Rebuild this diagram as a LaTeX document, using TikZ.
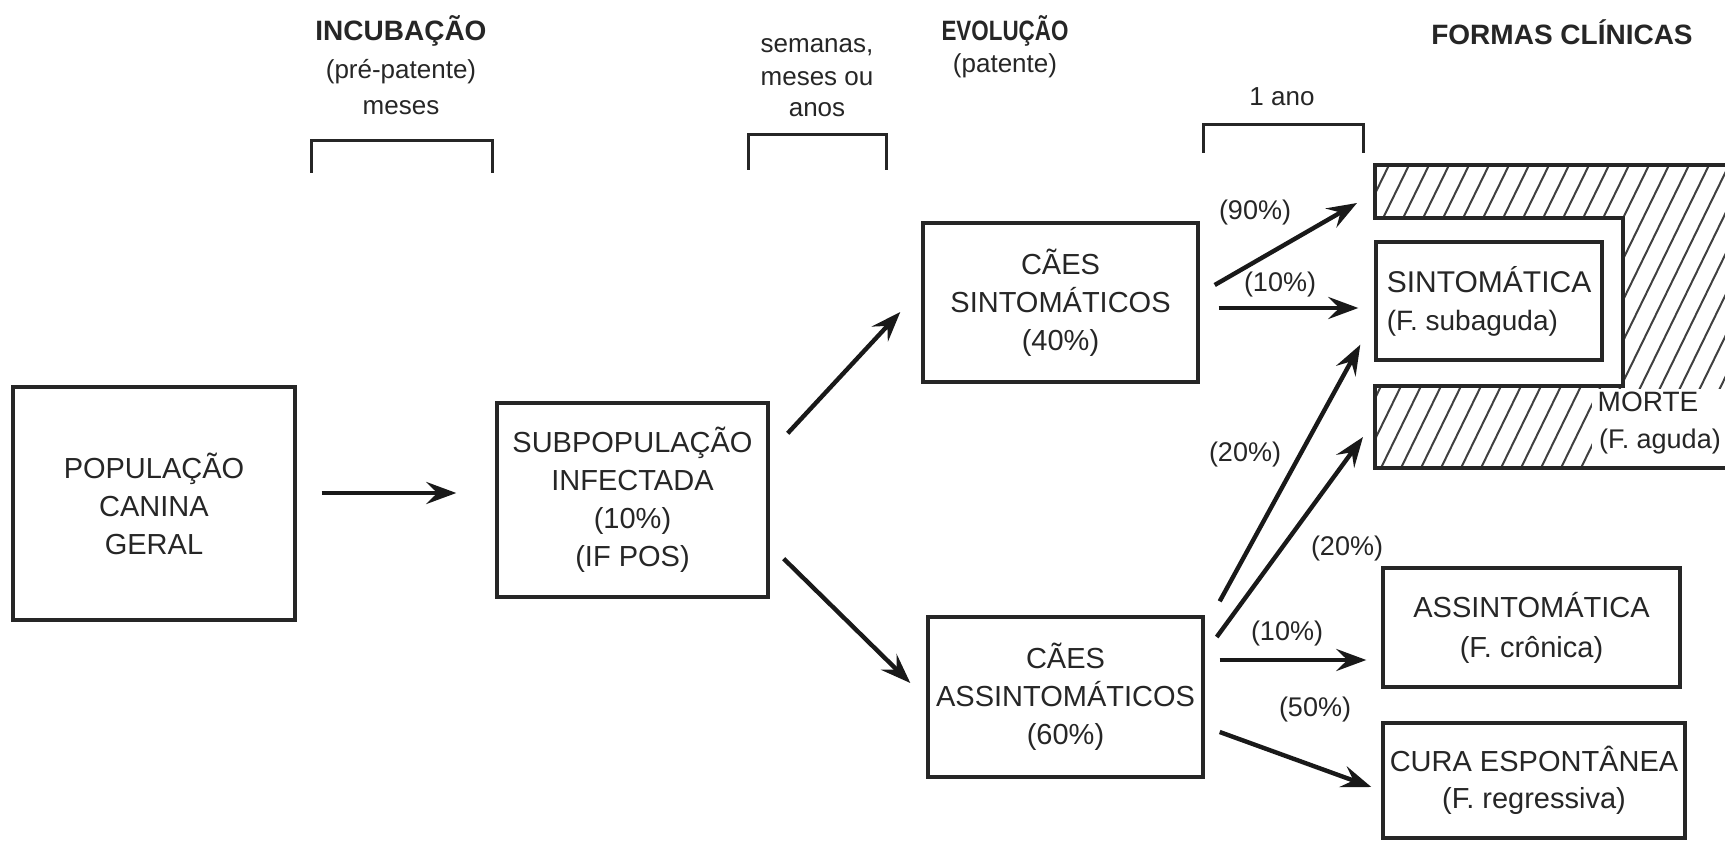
\documentclass[tikz,border=0pt]{standalone}
\usepackage{fontspec}
\setmainfont{Liberation Sans}
\newfontfamily\condfont{Liberation Sans}[FakeStretch=0.8]
\usetikzlibrary{arrows.meta}
\begin{document}
\begin{tikzpicture}[x=1pt,y=-1pt,
  every node/.style={text=black!85},
  box/.style={draw=black!85, line width=3.4pt, inner sep=0pt, align=center, font=\fontsize{29}{38}\selectfont},
  arr/.style={line width=4.4pt, black!90, -{Stealth[length=30pt,width=22pt,inset=11pt]}},
  pct/.style={font=\fontsize{27}{30}\selectfont, inner sep=0pt},
  head/.style={font=\fontsize{28}{32}\selectfont\bfseries, inner sep=0pt},
  subtxt/.style={font=\fontsize{26}{30}\selectfont, inner sep=0pt},
  brk/.style={line width=3pt, draw=black!85},
  hatchline/.style={line width=2pt, black!75},
  ]
\fill[white] (0,0) rectangle (1725,842);
\useasboundingbox (0,0) rectangle (1725,842);

% headers
\node[head] (inc) at (401,31) {INCUBAÇÃO};
\node[subtxt] (prep) at (401,72) {(pré-patente)};
\node[subtxt] (mes) at (401,108) {meses};
\draw[brk] (311,173) -- (311,141) -- (492,141) -- (492,173);
\node[subtxt] (sem) at (817,47) {semanas,};
\node[subtxt] (mesou) at (817,79) {meses ou};
\node[subtxt] (anos) at (817,110) {anos};
\draw[brk] (748,170) -- (748,135) -- (886,135) -- (886,170);
\node[head, font=\fontsize{28}{32}\selectfont\condfont\bfseries] (evo) at (1005,31) {EVOLUÇÃO};
\node[subtxt] (pat) at (1005,66) {(patente)};
\node[subtxt] (ano) at (1282,97) {1 ano};
\draw[brk] (1203,153) -- (1203,125) -- (1363,125) -- (1363,153);
\node[head] (formas) at (1562,32) {FORMAS CLÍNICAS};

% boxes
\node[box, minimum width=282pt, minimum height=233pt] (pop) at (154,503.5) {POPULAÇÃO\\CANINA\\GERAL};
\node[box, minimum width=271pt, minimum height=194pt] (sub) at (632.5,500) {SUBPOPULAÇÃO\\INFECTADA\\(10\%)\\(IF POS)};
\node[box, minimum width=275pt, minimum height=159pt] (sint) at (1060.5,302.5) {CÃES\\SINTOMÁTICOS\\(40\%)};
\node[box, minimum width=275pt, minimum height=160pt] (assint) at (1065.5,697) {CÃES\\ASSINTOMÁTICOS\\(60\%)};
\node[box, align=left, minimum width=226pt, minimum height=118pt] (sintb) at (1489,301) {{\fontsize{30}{39}\selectfont SINTOMÁTICA}\\{\fontsize{28}{39}\selectfont (F. subaguda)}};
\node[box, font=\fontsize{29}{40}\selectfont, minimum width=297pt, minimum height=119pt] (assintb) at (1531.5,627.5) {ASSINTOMÁTICA\\(F. crônica)};
\node[box, font=\fontsize{29}{37}\selectfont, minimum width=302pt, minimum height=115pt] (cura) at (1534,780.5) {CURA ESPONTÂNEA\\(F. regressiva)};

% hatched region (MORTE)
\begin{scope}
\clip (1375,165) -- (1725,165) -- (1725,468) -- (1375,468) -- (1375,386) -- (1623,386) -- (1623,218) -- (1375,218) -- cycle;
\foreach \x in {1200,1220,...,1740} \draw[hatchline] (\x,470) -- (\x+150,163);
\end{scope}
\fill[white] (1592,389) rectangle (1725,468);
\node[font=\fontsize{28}{32}\selectfont, inner sep=0pt] (morte) at (1648,402) {MORTE};
\node[font=\fontsize{27}{32}\selectfont, inner sep=0pt] (aguda) at (1660,442) {(F. aguda)};
\draw[brk, line width=3.4pt] (1725,165) -- (1375,165) -- (1375,218) -- (1623,218) -- (1623,386) -- (1375,386) -- (1375,468) -- (1725,468);
\coordinate (mtop) at (1375,191.5);
\coordinate (mbot) at (1375,427);

% arrows
\draw[arr] ([shift={(25,-10.5)}]pop.east) -- ([shift={(-39,-7)}]sub.west);
\draw[arr] ([shift={(18,32)}]sub.north east) -- ([shift={(-21,9.5)}]sint.west);
\draw[arr] ([shift={(14,-40)}]sub.south east) -- ([shift={(-16,-14)}]assint.west);
\draw[arr] ([shift={(15,-17.5)}]sint.east) -- ([shift={(-18,11.5)}]mtop);
\draw[arr] ([shift={(19,5.5)}]sint.east) -- ([shift={(-16,7)}]sintb.west);
\draw[arr] ([shift={(15,-14)}]assint.north east) -- ([shift={(-14,-17)}]sintb.south west);
\draw[arr] ([shift={(12,-60)}]assint.east) -- ([shift={(-12,10)}]mbot);
\draw[arr] ([shift={(15,-37)}]assint.east) -- ([shift={(-15,32.5)}]assintb.west);
\draw[arr] ([shift={(15,35)}]assint.east) -- ([shift={(-10,6.5)}]cura.west);

% percentages
\node[pct] (l90) at (1255,213) {(90\%)};
\node[pct] (l10a) at (1280,285) {(10\%)};
\node[pct] (l20a) at (1245,455) {(20\%)};
\node[pct] (l20b) at (1347,549) {(20\%)};
\node[pct] (l10b) at (1287,634) {(10\%)};
\node[pct] (l50) at (1315,710) {(50\%)};
\end{tikzpicture}
\end{document}
